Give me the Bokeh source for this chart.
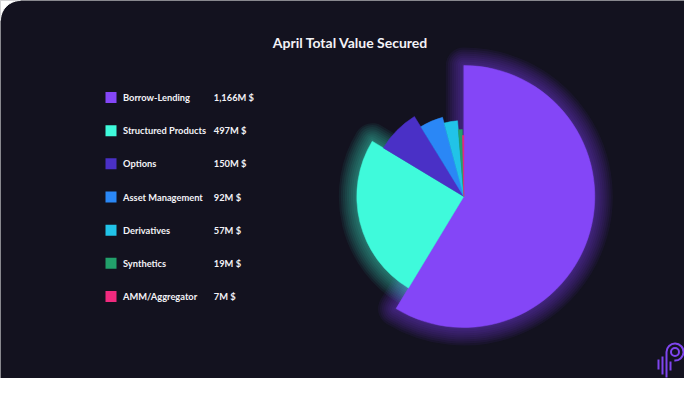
import numpy as np
from bokeh.plotting import figure
from bokeh.models import ColumnDataSource, Range1d
from bokeh.embed import file_html
from bokeh.resources import INLINE
from bokeh.core.properties import value

# ---------------- data ----------------
title_text = "April Total Value Secured"
categories = ["Borrow-Lending", "Structured Products", "Options", "Asset Management",
              "Derivatives", "Synthetics", "AMM/Aggregator"]
values_musd = [1166, 497, 150, 92, 57, 19, 7]
value_labels = ["1,166M $", "497M $", "150M $", "92M $", "57M $", "19M $", "7M $"]

# ---------------- style ----------------
colors = ["#8446f7", "#3ffadb", "#4a30c6", "#2a87f6", "#21c3e8", "#22a06b", "#f02a7e"]
slice_radius = [131, 107, 94, 82, 76, 67, 61]
BG = "#13121f"
TEXT = "#f3f2f7"
FONT = "Lato"

H_REF = 394  # reference image height, used to flip y (ref pixels -> data)

def fy(y_ref):
    return H_REF - y_ref

p = figure(width=684, height=378, x_range=Range1d(0, 684), y_range=Range1d(16, 394),
           output_backend="svg", toolbar_location=None, min_border=0)
p.axis.visible = False
p.grid.visible = False
p.outline_line_color = None
p.background_fill_color = BG
p.border_fill_color = BG

# rounded top-left corner of the card
cr = 20
t = np.linspace(np.pi / 2, np.pi, 20)
corner_x = np.concatenate([[0], cr + cr * np.cos(t)])
corner_y = np.concatenate([[fy(0)], fy(cr) + cr * np.sin(t)])
p.patch(corner_x, corner_y, fill_color="white", line_color="white", line_width=1)

# ---------------- pie ----------------
vals = np.array(values_musd, dtype=float)
cum = np.concatenate([[0.0], np.cumsum(vals / vals.sum())]) * 2 * np.pi
start = np.pi / 2 - cum[1:]
end = np.pi / 2 - cum[:-1]
cx, cy = 463.3, fy(196)

src = ColumnDataSource(dict(cat=categories, val=values_musd, start=start, end=end,
                            r=slice_radius, color=colors))

# glow for the two largest slices
for i in (0, 1):
    for w in range(36, 2, -4):
        p.wedge(x=cx, y=cy, radius=slice_radius[i], start_angle=start[i], end_angle=end[i],
                fill_alpha=0, line_color=colors[i], line_alpha=0.06, line_width=w,
                line_join="round")

p.wedge(x=cx, y=cy, radius="r", start_angle="start", end_angle="end", source=src,
        fill_color="color", line_color="color", line_width=0.5)

# ---------------- title ----------------
p.text(x=[350], y=[fy(42)], text=[title_text], text_font=value(FONT), text_font_style="bold",
       text_font_size="14px", text_color=TEXT, text_align="center", text_baseline="middle")

# ---------------- legend ----------------
row_y = [fy(97 + i * 33.17) for i in range(len(categories))]
lsrc = ColumnDataSource(dict(y=row_y, cat=categories, lab=value_labels, color=colors))
p.rect(x=110.5, y="y", width=11, height=11, source=lsrc, fill_color="color",
       line_color=None)
p.text(x=122.5, y="y", text="cat", source=lsrc, text_font=value(FONT), text_font_style="bold",
       text_font_size="9.3px", text_color=TEXT, text_baseline="middle")
p.text(x=213.3, y="y", text="lab", source=lsrc, text_font=value(FONT), text_font_style="bold",
       text_font_size="9.3px", text_color=TEXT, text_baseline="middle")

# ---------------- logo ----------------
LOGO = "#7f45ee"
lx, ly = 674.5, fy(351.5)
p.arc(x=lx, y=ly, radius=8.5, start_angle=-1.65, end_angle=np.pi, line_color=LOGO, line_width=2)
p.arc(x=lx, y=ly, radius=4, start_angle=0, end_angle=2 * np.pi, line_color=LOGO, line_width=2)
p.segment(x0=[666, 662, 658, 670], y0=[ly, fy(356), fy(359), fy(361)],
          x1=[666, 662, 658, 670], y1=[fy(377), fy(374), fy(369), fy(370)],
          line_color=LOGO, line_width=2)

open("out.html", "w").write(file_html(p, INLINE))
